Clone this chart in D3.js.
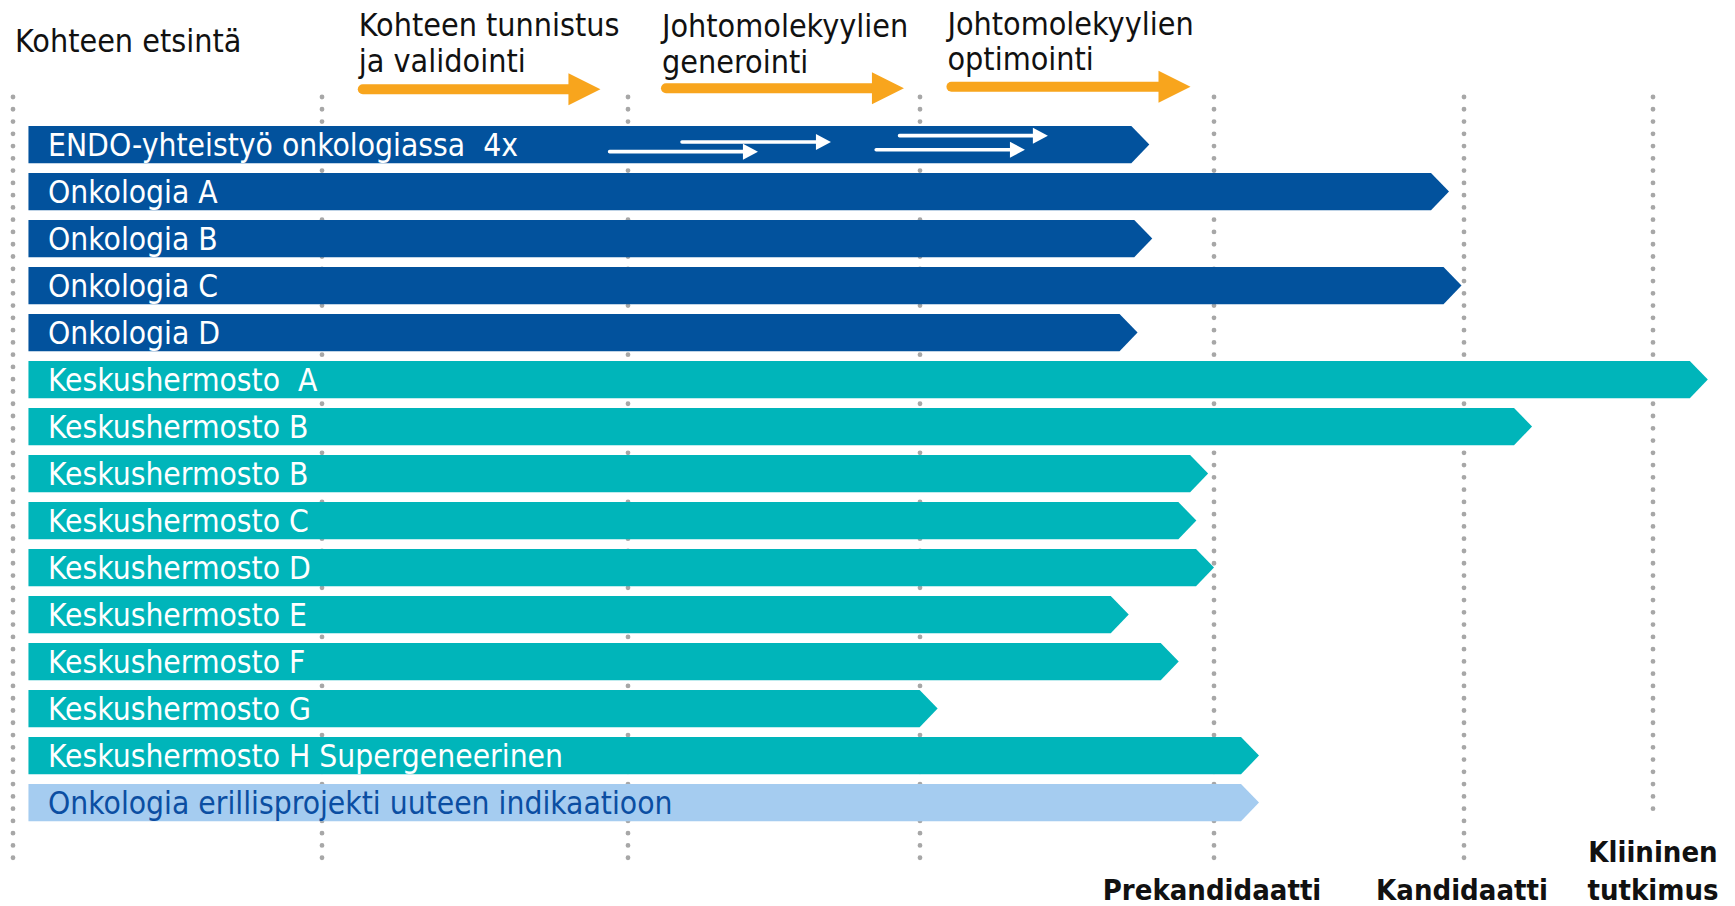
<!DOCTYPE html>
<html>
<head>
<meta charset="utf-8">
<script src="https://cdn.jsdelivr.net/npm/d3@7/dist/d3.min.js"></script>
<style>
  html, body { margin: 0; padding: 0; background: #fff; }
  svg { display: block; }
  text { font-family: "DejaVu Sans Condensed", "DejaVu Sans", sans-serif; font-stretch: condensed; }
</style>
</head>
<body>
<svg id="chart" width="1735" height="906"></svg>
<script>
// ---------------- data ----------------
const categories = [
  "ENDO-yhteistyö onkologiassa  4x",
  "Onkologia A",
  "Onkologia B",
  "Onkologia C",
  "Onkologia D",
  "Keskushermosto  A",
  "Keskushermosto B",
  "Keskushermosto B",
  "Keskushermosto C",
  "Keskushermosto D",
  "Keskushermosto E",
  "Keskushermosto F",
  "Keskushermosto G",
  "Keskushermosto H Supergeneerinen",
  "Onkologia erillisprojekti uuteen indikaatioon"
];
// progress, in stage units (0 = start of target discovery ... 6 = clinical study)
const progress = [3.78, 4.94, 3.79, 4.99, 3.74, 6.29, 5.36, 3.98, 3.94, 4.00, 3.71, 3.88, 3.06, 4.18, 4.18];
const groups = ["onk", "onk", "onk", "onk", "onk", "cns", "cns", "cns", "cns", "cns", "cns", "cns", "cns", "cns", "sep"];
const barStart = 0.05;

// phase headings and their arrows (stage units)
const phaseLabels = [
  ["Kohteen etsintä"],
  ["Kohteen tunnistus", "ja validointi"],
  ["Johtomolekyylien", "generointi"],
  ["Johtomolekyylien", "optimointi"]
];
const phaseArrowFrom = [null, 1.117, 2.113, 3.09];
const phaseArrowTo   = [null, 1.91, 2.945, 3.92];

// small parallel-work arrows inside the first bar (stage units, lane = fraction of bar height)
const subArrowFrom = [1.94, 2.185, 2.85, 2.93];
const subArrowTo   = [2.445, 2.695, 3.357, 3.435];
const subArrowLane = [0.69, 0.43, 0.64, 0.26];

// milestones on the stage axis
const milestoneStage  = [4, 5, 6];
const milestoneLabels = [["Prekandidaatti"], ["Kandidaatti"], ["Kliininen", "tutkimus"]];
const gridStages = [0, 1, 2, 3, 4, 5, 6];

// ---------------- styles ----------------
const colors = { onk: "#02529D", cns: "#00B5BA", sep: "#A5CCF0" };
const labelColors = { onk: "#ffffff", cns: "#ffffff", sep: "#0B4EA2" };
const orange = "#F8A51D";
const dotColor = "#A7A7A7";

// ---------------- scales ----------------
const svg = d3.select("#chart");
const x = d3.scaleLinear()
  .domain([0, 1, 2, 3, 4, 5, 6])
  .range([13, 322, 628, 920, 1214, 1464, 1653]);

const y = d3.scaleBand()
  .domain(d3.range(categories.length))
  .range([126, 821.2])
  .paddingInner(0.209)
  .paddingOuter(0);

const bh = y.bandwidth();
const tipDepth = 18;

// ---------------- grid (dotted stage lines) ----------------
svg.append("g").selectAll("line")
  .data(gridStages)
  .join("line")
  .attr("x1", d => x(d)).attr("x2", d => x(d))
  .attr("y1", 97)
  .attr("y2", d => d === 6 ? 819 : 858)
  .attr("stroke", dotColor)
  .attr("stroke-width", 4.8)
  .attr("stroke-linecap", "round")
  .attr("stroke-dasharray", "0 12.27");

// ---------------- bars ----------------
const bars = svg.append("g");
bars.selectAll("path")
  .data(categories.map((c, i) => ({ c, i, v: progress[i], g: groups[i] })))
  .join("path")
  .attr("d", d => {
    const x0 = x(barStart), xt = x(d.v), xb = xt - tipDepth;
    const y0 = y(d.i), y1 = y0 + bh;
    return `M${x0},${y0}L${xb},${y0}L${xt},${y0 + bh / 2}L${xb},${y1}L${x0},${y1}Z`;
  })
  .attr("fill", d => colors[d.g]);

bars.selectAll("text")
  .data(categories.map((c, i) => ({ c, i, g: groups[i] })))
  .join("text")
  .attr("x", 48)
  .attr("y", d => y(d.i) + bh / 2 + 11.5)
  .attr("fill", d => labelColors[d.g])
  .attr("font-size", 31.5)
  .style("white-space", "pre")
  .text(d => d.c);

// small white arrows inside the first bar
const sub = svg.append("g");
subArrowFrom.forEach((f, k) => {
  const yy = y(0) + bh * subArrowLane[k];
  const xs = x(f), xe = x(subArrowTo[k]);
  sub.append("line")
    .attr("x1", xs).attr("x2", xe - 12)
    .attr("y1", yy).attr("y2", yy)
    .attr("stroke", "#fff").attr("stroke-width", 3.6).attr("stroke-linecap", "round");
  sub.append("path")
    .attr("d", `M${xe - 15},${yy - 8}L${xe},${yy}L${xe - 15},${yy + 8}Z`)
    .attr("fill", "#fff");
});

// ---------------- phase headings ----------------
const head = svg.append("g");
const headBase = [[51.7], [36, 72], [36.7, 73], [34.5, 70]];
phaseLabels.forEach((lines, k) => {
  const tx = k === 0 ? x(0) + 2 : x(phaseArrowFrom[k]) + 1;
  lines.forEach((ln, j) => {
    head.append("text")
      .attr("x", tx)
      .attr("y", headBase[k][j])
      .attr("fill", "#111")
      .attr("font-size", 32)
      .text(ln);
  });
  if (phaseArrowFrom[k] !== null) {
    const ay = [0, 89.2, 88.3, 86.8][k];
    const xs = x(phaseArrowFrom[k]) + 5, xe = x(phaseArrowTo[k]);
    head.append("line")
      .attr("x1", xs).attr("x2", xe - 30)
      .attr("y1", ay).attr("y2", ay)
      .attr("stroke", orange).attr("stroke-width", 10).attr("stroke-linecap", "round");
    head.append("path")
      .attr("d", `M${xe - 32},${ay - 16}L${xe},${ay}L${xe - 32},${ay + 16}Z`)
      .attr("fill", orange);
  }
});

// ---------------- milestone labels ----------------
const ms = svg.append("g");
milestoneStage.forEach((s, k) => {
  const lines = milestoneLabels[k];
  const bases = lines.length === 2 ? [862, 900] : [900];
  lines.forEach((ln, j) => {
    ms.append("text")
      .attr("x", x(s) - 2 + (k === 2 ? 2 : 0))
      .attr("y", bases[j])
      .attr("text-anchor", "middle")
      .attr("font-weight", "bold")
      .attr("font-size", 29)
      .attr("fill", "#111")
      .text(ln);
  });
});
</script>
</body>
</html>
